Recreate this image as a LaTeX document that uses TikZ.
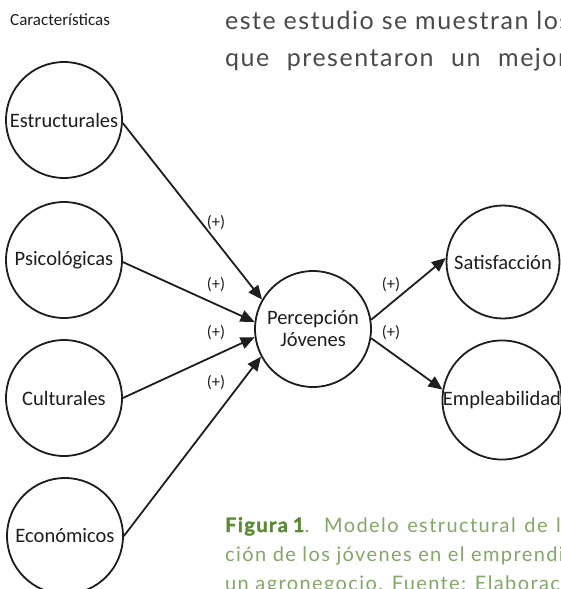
\documentclass[tikz,border=0pt]{standalone}
\usepackage{fontspec}
\setmainfont{Carlito}
\newfontfamily\toptext{Lato}[LetterSpace=6]
\newfontfamily\captext{Lato}[LetterSpace=7,BoldFeatures={FakeBold=1.6}]
\usetikzlibrary{arrows.meta}
\definecolor{ink}{HTML}{1E1E1E}
\definecolor{greyt}{HTML}{4A4A4A}
\definecolor{capdark}{HTML}{5A8A32}
\definecolor{caplight}{HTML}{82A766}
\begin{document}
\begin{tikzpicture}[x=1pt,y=-1pt,
  circ/.style={circle,draw=ink,line width=1.8pt,minimum size=116pt,inner sep=0pt,
    font=\fontsize{20.5}{22}\selectfont,text=ink,align=center},
  link/.style={line width=1.8pt,draw=ink,-{Triangle[length=14pt,width=12pt]}},
  sign/.style={font=\fontsize{16.5}{18}\selectfont,text=ink,inner sep=0pt},
  txt/.style={anchor=base west,inner sep=0pt}]
\useasboundingbox (0,0) rectangle (561,589);
\clip (0,0) rectangle (561,589);
\fill[white] (0,0) rectangle (561,589);
% header
\node[txt,font=\fontsize{17}{18}\selectfont,text=ink] (car) at (10,25) {Características};
\node[txt,font=\toptext\fontsize{25}{28}\selectfont,text=greyt] (p1) at (225,29) {este estudio se muestran los};
\node[txt,font=\toptext\fontsize{25}{28}\selectfont,text=greyt] (p2) at (225,66) {\makebox[342pt][s]{que presentaron un mejor}};
% circles
\node[circ] (est) at (64,120) {Estructurales};
\node[circ] (psi) at (64,260) {Psicológicas};
\node[circ] (cul) at (64,398) {Culturales};
\node[circ] (eco) at (65,536) {Económicos};
\node[circ] (perc) at (313,329) {Percepción\\Jóvenes};
\node[circ,minimum size=113pt] (sat) at (503,262) {Satisfacción};
\node[circ,minimum size=114pt] (emp) at (502,400) {Empleabilidad};
% connectors
\draw[link] (est.-3) -- (perc.150);
\draw[link] (psi.-2) -- (perc.173);
\draw[link] (cul.0) -- (perc.188);
\draw[link] (eco.0) -- (perc.208);
\draw[link] (perc.9) -- (sat.176);
\draw[link] (perc.-9) -- (emp.170);
% signs
\node[sign] (s1) at (216,223) {(+)};
\node[sign] (s2) at (216,285) {(+)};
\node[sign] (s3) at (216,333) {(+)};
\node[sign] (s4) at (216,383) {(+)};
\node[sign] (s5) at (391,285) {(+)};
\node[sign] (s6) at (391,333) {(+)};
% caption
\node[txt,font=\captext\fontsize{20}{22}\selectfont,text=caplight] (c1) at (225,532)
  {\makebox[347pt][s]{\textcolor{capdark}{\bfseries Figura\hspace{0.25em}1}. Modelo estructural de la}};
\node[txt,font=\captext\fontsize{20}{22}\selectfont,text=caplight] (c2) at (225,561) {ción de los jóvenes en el emprendim};
\node[txt,font=\captext\fontsize{20}{22}\selectfont,text=caplight] (c3) at (225,590) {un agronegocio. Fuente: Elaboración};
\end{tikzpicture}
\end{document}
